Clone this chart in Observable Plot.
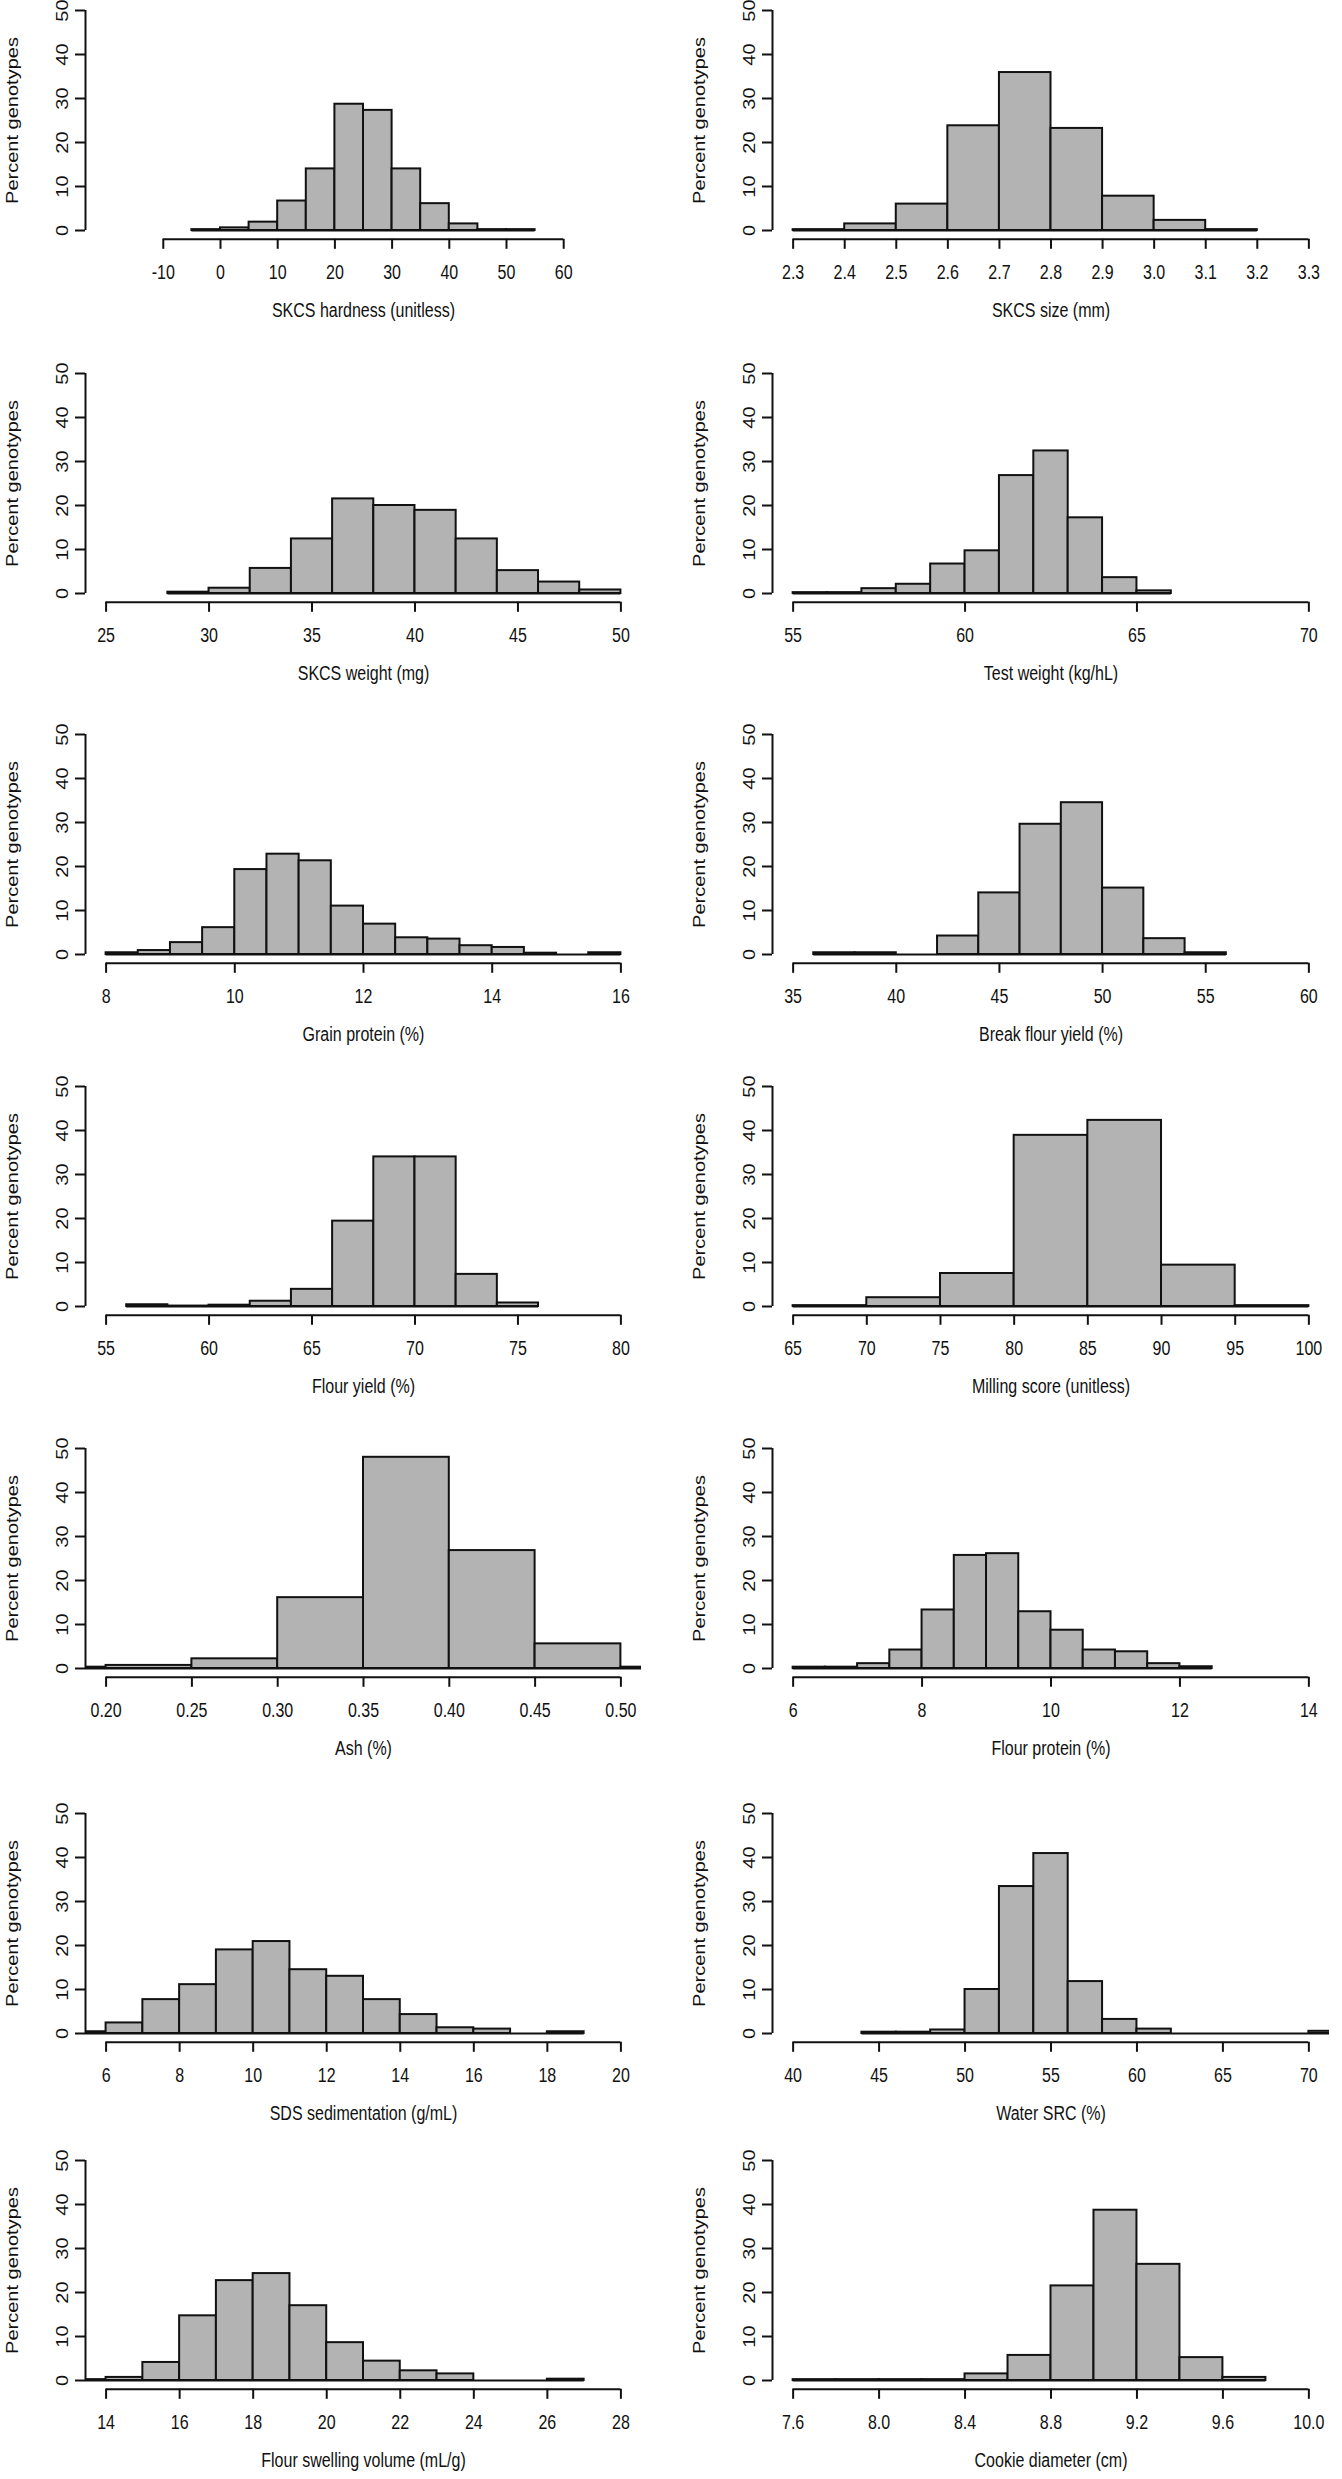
<!DOCTYPE html>
<html>
<head>
<meta charset="utf-8">
<script src="https://cdn.jsdelivr.net/npm/d3@7"></script>
<script src="https://cdn.jsdelivr.net/npm/@observablehq/plot@0.6"></script>
<style>
  html, body { margin: 0; padding: 0; background: #fff; overflow: hidden; }
  #wrap { position: relative; width: 1342px; height: 2479px; overflow: hidden; background: #fff; }
  #wrap svg { position: absolute; overflow: visible; }
</style>
</head>
<body>
<div id="wrap"></div>
<script>
// ---- Data ----
const labels = [
  "SKCS hardness (unitless)", "SKCS size (mm)",
  "SKCS weight (mg)", "Test weight (kg/hL)",
  "Grain protein (%)", "Break flour yield (%)",
  "Flour yield (%)", "Milling score (unitless)",
  "Ash (%)", "Flour protein (%)",
  "SDS sedimentation (g/mL)", "Water SRC (%)",
  "Flour swelling volume (mL/g)", "Cookie diameter (cm)"
];

const xLimits = [
  [-20, 70], [2.3, 3.3],
  [25, 50], [55, 70],
  [8, 16], [35, 60],
  [55, 80], [65, 100],
  [0.2, 0.5], [6, 14],
  [6, 20], [40, 70],
  [14, 28], [7.6, 10]
];

const xTickLabels = [
  ["-10", "0", "10", "20", "30", "40", "50", "60"],
  ["2.3", "2.4", "2.5", "2.6", "2.7", "2.8", "2.9", "3.0", "3.1", "3.2", "3.3"],
  ["25", "30", "35", "40", "45", "50"],
  ["55", "60", "65", "70"],
  ["8", "10", "12", "14", "16"],
  ["35", "40", "45", "50", "55", "60"],
  ["55", "60", "65", "70", "75", "80"],
  ["65", "70", "75", "80", "85", "90", "95", "100"],
  ["0.20", "0.25", "0.30", "0.35", "0.40", "0.45", "0.50"],
  ["6", "8", "10", "12", "14"],
  ["6", "8", "10", "12", "14", "16", "18", "20"],
  ["40", "45", "50", "55", "60", "65", "70"],
  ["14", "16", "18", "20", "22", "24", "26", "28"],
  ["7.6", "8.0", "8.4", "8.8", "9.2", "9.6", "10.0"]
];

const yTicks = [0, 10, 20, 30, 40, 50];

const binStart = [-5, 2.3, 28, 55, 8, 36, 56, 65, 0.15, 6, 5, 44, 13, 7.6];
const binWidth = [5, 0.1, 2, 1, 0.5, 2, 2, 5, 0.05, 0.5, 1, 2, 1, 0.2];

const percents = [
  [0.2, 0.6, 1.9, 6.7, 14.0, 28.7, 27.3, 14.0, 6.1, 1.5, 0.2, 0.2],
  [0.2, 1.5, 6.0, 23.8, 35.9, 23.2, 7.8, 2.3, 0.2],
  [0.3, 1.2, 5.7, 12.4, 21.5, 20.0, 18.9, 12.4, 5.2, 2.6, 0.8],
  [0.2, 0.2, 1.1, 2.1, 6.7, 9.7, 26.8, 32.4, 17.2, 3.6, 0.6],
  [0.4, 0.9, 2.7, 6.1, 19.3, 22.8, 21.3, 11.0, 6.9, 3.8, 3.5, 2.0, 1.6, 0.3, 0, 0.4],
  [0.4, 0.4, 0, 4.2, 14.0, 29.6, 34.5, 15.1, 3.6, 0.4],
  [0.4, 0.1, 0.3, 1.2, 3.9, 19.4, 34.0, 34.0, 7.3, 0.8],
  [0.2, 2.0, 7.5, 38.9, 42.3, 9.4, 0.2],
  [0.3, 0.7, 2.2, 16.1, 48.0, 26.8, 5.6, 0.3],
  [0.3, 0.3, 1.1, 4.2, 13.3, 25.7, 26.1, 12.9, 8.7, 4.2, 3.8, 1.1, 0.4],
  [0.4, 2.4, 7.7, 11.1, 19.0, 20.9, 14.5, 13.0, 7.7, 4.3, 1.3, 1.0, 0, 0.4],
  [0.3, 0.3, 0.8, 10.0, 33.4, 40.9, 11.8, 3.2, 1.0, 0, 0, 0, 0, 0.5],
  [0.2, 0.7, 4.1, 14.7, 22.7, 24.3, 17.0, 8.6, 4.4, 2.2, 1.5, 0, 0, 0.3],
  [0.2, 0.2, 0.2, 0.2, 1.5, 5.7, 21.5, 38.7, 26.4, 5.2, 0.7]
];

const yLabel = "Percent genotypes";

// ---- Layout ----
const rowZero = [230, 592.7, 953.7, 1306, 1668, 2033, 2380];
const colLeft = [0, 686.5];
const ink = "#111";
const font = "'Liberation Sans', Arial, Helvetica, sans-serif";
const fs = 20;
const squeeze = 0.8; // the reference's lettering is horizontally condensed

const wrap = document.getElementById("wrap");

labels.forEach((label, i) => {
  const row = Math.floor(i / 2), col = i % 2;
  const [lo, hi] = xLimits[i];
  const pad = 0.04 * (hi - lo);
  const dom = [lo - pad, hi + pad];
  const w = binWidth[i];
  const bins = percents[i].map((p, k) => {
    const x1 = +(binStart[i] + k * w).toFixed(6);
    return {x1, x2: +(x1 + w).toFixed(6), p};
  });
  const ticks = xTickLabels[i].map(Number);
  const tickText = new Map(xTickLabels[i].map(s => [Number(s), s]));

  const svg = Plot.plot({
    width: 671,
    height: 330,
    marginLeft: 85,
    marginRight: col === 0 ? 30 : 29,
    marginTop: 1.2,
    marginBottom: 91.2,
    x: {domain: dom},
    y: {domain: [-2, 52]},
    style: {fontFamily: font, fontSize: fs + "px", color: ink, background: "transparent", overflow: "visible"},
    marks: [
      Plot.rectY(bins, {x1: "x1", x2: "x2", y: "p", fill: "#b3b3b3", stroke: ink, strokeWidth: 2, clip: true}),
      Plot.ruleY([bins[0]], {y: () => 0, x1: () => bins[0].x1, x2: () => bins[bins.length - 1].x2, stroke: ink, strokeWidth: 2, clip: true}),
      Plot.ruleY([0], {y: () => -2, x1: () => ticks[0], x2: () => ticks[ticks.length - 1], stroke: ink, strokeWidth: 2}),
      Plot.ruleX([0], {x: () => dom[0], y1: () => 0, y2: () => 50, stroke: ink, strokeWidth: 2}),
      Plot.axisX({ticks, tickFormat: d => tickText.get(d), tickSize: 10, tickPadding: 15, fontSize: fs, label: null, stroke: ink, strokeWidth: 2, fill: ink}),
      Plot.axisY({ticks: yTicks, tickFormat: d => String(d), tickSize: 10, tickPadding: 8, tickRotate: -90, fontSize: fs, label: null, stroke: ink, strokeWidth: 2, fill: ink}),
      Plot.text([label], {frameAnchor: "bottom", dy: 71, fontSize: fs, lineAnchor: "middle", fill: ink}),
      Plot.text([yLabel], {frameAnchor: "left", dx: -73, rotate: -90, fontSize: fs, lineAnchor: "middle", textAnchor: "middle", fill: ink})
    ]
  });

  // condense lettering horizontally, about each label's own anchor point
  svg.querySelectorAll("text").forEach(t => {
    const tr = t.getAttribute("transform") || "";
    const s = ` scale(${squeeze},1)`;
    if (tr.includes("rotate")) t.setAttribute("transform", tr.replace(/\s*rotate/, s + " rotate"));
    else t.setAttribute("transform", tr + s);
  });

  svg.style.left = colLeft[col] + "px";
  svg.style.top = (rowZero[row] - 230) + "px";
  wrap.appendChild(svg);
});
</script>
</body>
</html>
